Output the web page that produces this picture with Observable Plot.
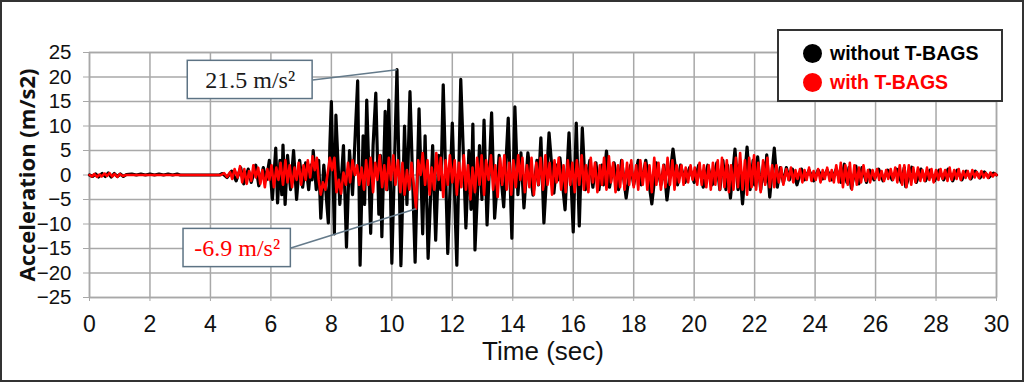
<!DOCTYPE html>
<html><head><meta charset="utf-8">
<script src="https://cdn.jsdelivr.net/npm/d3@7"></script>
<script src="https://cdn.jsdelivr.net/npm/@observablehq/plot@0.6"></script>
<style>
html,body{margin:0;padding:0;background:#fff;}
#wrap{position:relative;width:1024px;height:382px;overflow:hidden;background:#fff;}
#wrap svg{position:absolute;left:0;top:0;}
#border{position:absolute;left:0;top:0;width:1024px;height:382px;box-sizing:border-box;border:2px solid #333;pointer-events:none;}
#legend{position:absolute;left:777px;top:29px;width:226px;height:73px;box-sizing:border-box;border:2px solid #333;background:#fff;font-family:"Liberation Sans",Arial,sans-serif;font-weight:bold;font-size:19.5px;}
.item{position:absolute;left:24px;display:flex;align-items:center;height:22px;}
.dot{width:19px;height:19px;border-radius:50%;margin-right:8px;}
</style></head>
<body>
<div id="wrap"></div>
<script>
const xTicks = [0,2,4,6,8,10,12,14,16,18,20,22,24,26,28,30];
const yTicks = [-25,-20,-15,-10,-5,0,5,10,15,20,25];
const seriesNames = ["without T-BAGS","with T-BAGS"];
const seriesColors = ["#000000","#ff0000"];

// time (s), acceleration (m/s2) – without T-BAGS
const withoutTBAGS = [
[0,0],[0.1,-0.3],[0.2,0.2],[0.3,-0.4],[0.42,0.3],[0.52,-0.3],[0.62,0.4],[0.72,-0.4],[0.82,0.3],[0.92,-0.3],[1.02,0.2],[1.12,-0.3],[1.22,0.1],
[1.4,0.2],[1.55,0],[1.7,0.2],[1.85,0],[2.0,0.2],[2.15,0],[2.3,0.2],[2.45,0],[2.6,0.2],[2.75,0],[2.9,0.2],[3.0,0],[4.3,0],
[4.4,0.3],[4.55,-0.5],[4.7,0.8],[4.85,-1.2],[5.0,1.5],[5.1,-1.8],[5.25,1.2],[5.35,-1.5],[5.5,2],[5.6,-2.2],[5.75,1.5],[5.85,-1],
[5.95,3],[6.05,-5],[6.16,5.5],[6.22,-5.7],[6.3,3],[6.36,-4],[6.4,6.1],[6.47,-6],[6.55,4],[6.65,-3],[6.75,5],[6.85,-5],[6.95,3],
[7.05,-2.5],[7.15,2.5],[7.25,-3],[7.32,2],[7.36,-1],[7.4,5],[7.5,-3],[7.58,3],[7.65,-8.8],[7.75,2],[7.9,-9.8],[7.95,6],[8.0,15],
[8.1,-12],[8.15,12.2],[8.28,-6],[8.4,6],[8.5,-14.7],[8.6,5],[8.7,-4],[8.87,19.2],[8.95,-18.4],[9.05,8],[9.1,-6],[9.17,15.3],
[9.3,-11.9],[9.38,6],[9.47,16.7],[9.57,-8],[9.62,4],[9.67,-12.6],[9.78,13],[9.84,-3],[9.9,15.3],[10.0,-18],[10.17,21.5],[10.3,-18.5],
[10.42,10],[10.5,-6],[10.6,17],[10.77,-17.8],[10.9,13.5],[11.02,-12],[11.1,8],[11.2,-17],[11.35,6],[11.45,-13.3],[11.55,4],[11.62,-3],
[11.7,18.4],[11.85,-16],[12.0,10.6],[12.15,-18.4],[12.28,19.5],[12.45,-10.8],[12.55,5],[12.62,-7],[12.68,10.4],[12.75,-15.3],[12.9,6],
[12.98,-5],[13.05,11.2],[13.15,-10.2],[13.3,12.7],[13.4,-8.8],[13.55,4],[13.7,-6.5],[13.85,11.6],[13.97,-12.9],[14.07,13.9],[14.17,-4],
[14.27,4.5],[14.37,-6.7],[14.5,4.5],[14.67,-4.1],[14.8,3],[14.85,-2],[14.93,7.6],[15.03,-9.8],[15.2,8.6],[15.36,-3.7],[15.45,2],[15.5,-1],
[15.56,3.5],[15.73,-7.1],[15.86,8.6],[16.0,-11.6],[16.1,10.6],[16.2,-10.4],[16.3,9.6],[16.4,-3],[16.55,3],[16.65,-2.5],[16.75,2.5],
[16.85,-3],[16.95,2],[17.0,-2],[17.1,4.9],[17.2,-2.5],[17.35,2.5],[17.5,-3],[17.6,3],[17.75,-4.7],[17.9,2],[18.0,-2],[18.15,3],[18.25,-2],
[18.4,3],[18.6,-5.9],[18.75,2.5],[18.9,-2],[19.0,2],[19.1,-5.1],[19.3,5.3],[19.45,-2],[19.55,2],[19.7,-1.5],[19.85,1.5],[20.0,-1.5],
[20.15,2],[20.3,-2.5],[20.45,2],[20.6,-2],[20.75,2.5],[20.85,-3],[20.95,3],[21.05,-3],[21.1,2],[21.2,-4.7],[21.35,5.3],[21.45,-3],
[21.5,2],[21.6,-5.9],[21.75,5.7],[21.85,-3],[21.95,3],[22.0,-2],[22.1,3.7],[22.2,-3],[22.3,2.5],[22.35,-1.5],[22.4,4.1],[22.5,-4.5],
[22.65,5.5],[22.75,-2.5],[22.85,1.5],[22.95,-1.5],[23.05,1.5],[23.15,-1],[23.25,1.2],[23.4,-2],[23.55,1.2],[23.65,-1],[23.8,1],
[23.95,-1.2],[24.1,1],[24.25,-0.8],[24.4,1],[24.55,-1],[24.7,1.2],[24.85,-1.5],[24.97,2.2],[25.05,-1.5],[25.12,1.5],[25.2,-2.7],
[25.35,1.8],[25.45,-1.8],[25.55,1.5],[25.7,-1.5],[25.8,1],[25.95,-1],[26.1,1.2],[26.25,-1.2],[26.4,1],[26.55,-1],[26.7,1.2],[26.85,-1.5],
[26.95,1.5],[27.0,-2.4],[27.2,1.6],[27.35,-1.5],[27.5,1.2],[27.65,-1.2],[27.8,1],[27.95,-1.2],[28.1,1],[28.25,-1],[28.4,1.2],[28.55,-1.2],
[28.7,1],[28.85,-1],[29.0,0.8],[29.15,-0.8],[29.3,0.8],[29.45,-0.6],[29.6,0.6],[29.75,-0.5],[29.9,0.4],[30,0]
];

// time (s), acceleration (m/s2) – with T-BAGS
const withTBAGS = [
[0,0],[0.08,-0.3],[0.16,0.2],[0.25,-0.4],[0.33,0.1],[0.4,-0.3],[0.5,0.3],[0.58,-0.2],[0.66,0.4],[0.75,-0.3],[0.83,0.2],[0.92,-0.4],
[1.0,0.2],[1.1,-0.2],[1.2,0],[4.35,0],
[4.45,0.4],[4.55,-0.4],[4.65,0.6],[4.72,-0.8],[4.8,1.2],[4.9,-0.5],[4.98,1.8],[5.05,-1.5],[5.12,1.2],[5.2,-1.8],[5.28,0.8],[5.35,-1.2],
[5.42,2],[5.5,-0.5],[5.58,1.5],[5.65,-1.8],[5.72,1],[5.8,-2.5],[5.88,1.2],[5.95,-1],
[6.02,2],[6.1,-2.5],[6.18,1.5],[6.25,-1],[6.32,2.5],[6.4,-2],[6.48,3],[6.55,-1.5],[6.62,2],[6.7,-2.5],[6.78,1.5],[6.85,-1],[6.92,2.5],
[7.0,-2],[7.08,2],[7.15,-1],[7.22,3],[7.3,-0.5],[7.38,3.8],[7.45,1],[7.52,3.5],[7.58,-1],[7.65,-4],[7.72,-1.5],[7.8,-3],[7.88,0.5],
[7.95,3.5],[8.02,1],[8.1,3.5],[8.17,-3.5],[8.25,-1],[8.32,-3.8],[8.4,0.5],[8.48,-2],[8.55,2.5],[8.62,-1.5],[8.7,3],[8.78,0],[8.85,2],
[8.92,-2],[9.0,1.5],[9.08,-3],[9.15,3],[9.22,-2],[9.3,3.5],[9.38,-3.5],[9.45,2.5],[9.52,-1],[9.6,4],[9.68,-2.5],[9.75,2],[9.82,-3],
[9.9,3.5],[9.97,-1],[10.05,4],[10.12,-2],[10.2,3],[10.28,-3.5],[10.35,2.5],[10.42,-4],[10.5,1],[10.58,-3],[10.65,2.5],[10.72,-1.5],
[10.8,-6.9],[10.87,3],[10.95,0],[11.02,4.5],[11.1,-2],[11.18,3],[11.25,-4],[11.32,1.5],[11.4,-3],[11.47,4.5],[11.55,-1],[11.62,3.5],
[11.7,-4.5],[11.78,3],[11.85,-2],[11.92,4],[12.0,-1.5],[12.08,3],[12.15,-4],[12.22,2.5],[12.3,-2.5],[12.38,4],[12.45,-3],[12.52,2],
[12.6,-5],[12.67,1.5],[12.75,-3.5],[12.82,3.5],[12.9,-2],[12.97,4],[13.05,-4],[13.12,3],[13.2,-1],[13.28,4],[13.35,-3],[13.42,2],
[13.5,-4.5],[13.58,3.5],[13.65,-2],[13.72,4],[13.8,-3],[13.88,2.5],[13.95,-4],[14.02,3],[14.1,-2.5],[14.18,4],[14.25,-1],[14.32,3.5],
[14.4,-3.5],[14.47,2],[14.55,-2.5],[14.62,3.5],[14.7,-4],[14.78,2.5],[14.85,-2],[14.92,3.5],[15.0,-3],[15.08,4],[15.15,-2],[15.22,2.5],
[15.3,-4],[15.38,3],[15.45,-1.5],[15.52,3.5],[15.6,-3],[15.68,2],[15.75,-3.5],[15.82,3],[15.9,-2],[15.97,2.5],
[16.05,-3.5],[16.12,3],[16.2,-2],[16.28,4],[16.35,-3],[16.42,2],[16.5,-3.5],[16.58,3.5],[16.65,-1.5],[16.72,2.5],[16.8,-3.5],[16.88,2],
[16.95,-2],[17.02,3.5],[17.1,-3],[17.18,3.8],[17.25,-1.5],[17.32,2.5],[17.4,-3.5],[17.48,2],[17.55,-2.5],[17.62,3],[17.7,-3],[17.78,2.5],
[17.85,-2],[17.92,3],[18.0,-2.5],[18.08,2],[18.15,-3],[18.22,3],[18.3,-2],[18.38,2.5],[18.45,-3],[18.52,2],[18.6,-3.5],[18.68,3.5],
[18.75,-2],[18.82,2.5],[18.9,-3],[18.98,2],[19.05,-2.5],[19.12,3.5],[19.2,-2],[19.28,3],[19.35,-3],[19.42,2],[19.5,-1.5],[19.58,2],
[19.65,-2],[19.72,1.5],[19.8,-1.5],[19.88,2],[19.95,-1],[20.02,1.5],[20.1,-2],[20.18,2.5],[20.25,-2],[20.32,2],[20.4,-2.5],[20.48,2],
[20.55,-3],[20.62,2.5],[20.7,-2],[20.78,3],[20.85,-3],[20.92,3.5],[21.0,-2.5],[21.08,3],[21.15,-3.5],[21.22,2],[21.3,-3],[21.38,3.5],
[21.45,-2.5],[21.52,4.5],[21.6,-3],[21.68,3],[21.75,-4],[21.82,3.5],[21.9,-2.5],[21.98,4],[22.05,-3],[22.12,2.5],[22.2,-3.5],[22.28,3],
[22.35,-2],[22.42,3.5],[22.5,-2.5],[22.58,2],[22.65,-2.5],[22.72,2],[22.8,-1.5],[22.88,1.5],[22.95,-2],
[23.05,1.2],[23.12,-1],[23.2,1.5],[23.28,-1.5],[23.35,1],[23.42,-0.8],[23.5,1.2],[23.58,-1.5],[23.65,1],[23.72,-1],[23.8,1.5],[23.88,-1.2],
[23.95,0.8],[24.02,-1],[24.1,1.2],[24.18,-1.5],[24.25,1],[24.32,-0.8],[24.4,1.5],[24.48,-1.2],[24.55,1],[24.62,-1.5],[24.7,2],[24.78,-1.5],
[24.85,2.5],[24.92,-2.5],[25.0,2],[25.08,-2],[25.15,2.5],[25.22,-3],[25.3,2],[25.38,-2],[25.45,1.5],[25.52,-1.5],[25.6,2],[25.68,-1.2],
[25.75,1],[25.82,-1.5],[25.9,1],[25.98,-0.8],[26.05,1.2],[26.12,-1],[26.2,0.8],[26.28,-1.2],[26.35,1],[26.42,-0.8],[26.5,1.2],[26.58,-1],
[26.65,1.5],[26.72,-1.5],[26.8,2],[26.88,-2],[26.95,2],[27.02,-2.5],[27.1,2],[27.18,-2],[27.25,1.5],[27.32,-1.5],[27.4,1.5],[27.48,-1.2],
[27.55,1],[27.62,-1.2],[27.7,1.5],[27.78,-1],[27.85,1.2],[27.92,-1.5],[28.0,1],[28.08,-1],[28.15,1.2],[28.22,-0.8],[28.3,1],[28.38,-1.2],
[28.45,1.5],[28.52,-1],[28.6,1],[28.68,-0.8],[28.75,1.2],[28.82,-1],[28.9,0.8],[28.98,-0.6],[29.05,0.8],[29.12,-0.8],[29.2,1],[29.28,-0.5],
[29.35,0.6],[29.42,-0.6],[29.5,0.8],[29.58,-0.5],[29.65,0.4],[29.72,-0.6],[29.8,0.5],[29.88,-0.3],[29.95,0.3],[30,0]
];

// annotation callouts: peak values and their boxes (in data units)
const annotLabels = ["21.5 m/s²","-6.9 m/s²"];
const annotColors = ["#1a1a1a","#ff0000"];
const annotPeakT = [10.17, 10.8];
const annotPeakA = [21.5, -6.9];
const annotBoxT = [[3.25,7.38],[3.11,6.66]];
const annotBoxA = [[15.5,23.3],[-18.8,-11.0]];

const annots = annotLabels.map((label,i)=>({
  label, color: annotColors[i],
  px: annotPeakT[i], py: annotPeakA[i],
  x1: annotBoxT[i][0], x2: annotBoxT[i][1],
  y1: annotBoxA[i][0], y2: annotBoxA[i][1],
  cx: (annotBoxT[i][0]+annotBoxT[i][1])/2,
  cy: (annotBoxA[i][0]+annotBoxA[i][1])/2
}));

const black = withoutTBAGS.map(([t,a])=>({t,a}));
const red = withTBAGS.map(([t,a])=>({t,a}));
const gridColor = "#a8a8a8";

const chart = Plot.plot({
  width:1024, height:382,
  marginLeft:89, marginRight:28, marginTop:52, marginBottom:85,
  x:{domain:[0,30]}, y:{domain:[-25,25]},
  style:{fontFamily:"'Liberation Sans', Arial, sans-serif", color:"#111", background:"transparent"},
  marks:[
    Plot.gridX(xTicks,{stroke:gridColor, strokeOpacity:1, strokeWidth:1.5}),
    Plot.gridY(yTicks,{stroke:gridColor, strokeOpacity:1, strokeWidth:1.5}),
    Plot.frame({stroke:gridColor, strokeWidth:1.5}),
    Plot.axisX(xTicks,{fontSize:23, tickSize:4, tickPadding:14, stroke:gridColor, label:null}),
    Plot.axisY(yTicks,{fontSize:20.5, tickSize:6, tickPadding:12, stroke:gridColor, label:null}),
    Plot.line(black,{x:"t", y:"a", stroke:seriesColors[0], strokeWidth:3.2, strokeLinejoin:"round"}),
    Plot.line(red,{x:"t", y:"a", stroke:seriesColors[1], strokeWidth:2.6, strokeLinejoin:"round"}),
    Plot.link(annots,{x1:"x2", y1:"cy", x2:"px", y2:"py", stroke:"#647a8a", strokeWidth:1.5}),
    Plot.rect(annots,{x1:"x1", x2:"x2", y1:"y1", y2:"y2", fill:"#fff", stroke:"#5d7384", strokeWidth:1.5}),
    Plot.text(annots,{x:"cx", y:"cy", text:"label", fill:"color", fontFamily:"'Liberation Serif','Times New Roman',serif", fontSize:24}),
    Plot.text(["Acceleration (m/s2)"],{frameAnchor:"left", textAnchor:"middle", dx:-62, rotate:-90, fontSize:22, fontWeight:"bold", fontFamily:"'Open Sans','Liberation Sans',Arial,sans-serif", fill:"#111"}),
    Plot.text(["Time (sec)"],{frameAnchor:"bottom", dy:62, fontSize:26, fill:"#111"})
  ]
});

const wrap = document.getElementById("wrap");
wrap.appendChild(chart);

const legend = document.createElement("div");
legend.id = "legend";
seriesNames.forEach((name,i)=>{
  const item = document.createElement("div");
  item.className = "item";
  item.style.top = (i===0 ? 11 : 40) + "px";
  const dot = document.createElement("span");
  dot.className = "dot";
  dot.style.background = seriesColors[i];
  const label = document.createElement("span");
  label.textContent = name;
  label.style.color = seriesColors[i];
  item.appendChild(dot); item.appendChild(label);
  legend.appendChild(item);
});
wrap.appendChild(legend);
const border = document.createElement("div");
border.id = "border";
wrap.appendChild(border);
</script>
</body></html>
